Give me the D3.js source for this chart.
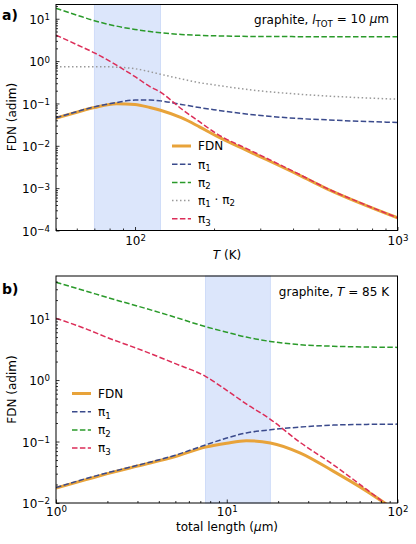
<!DOCTYPE html>
<html><head><meta charset="utf-8">
<script src="https://cdn.jsdelivr.net/npm/d3@7"></script>
<style>
body{margin:0;background:#fff;}
text{font-family:"DejaVu Sans",sans-serif;fill:#000;}
</style></head>
<body><svg id="c" width="416" height="544"></svg>
<script>
// ---------- Panel a) data: temperature T (K) ----------
const T_vals   = [50, 60, 70, 85, 100, 114, 125, 150, 176, 204, 274, 424, 536, 717, 1000];
const fdnA     = [0.045, 0.062, 0.080, 0.099, 0.095, 0.080, 0.069, 0.046, 0.028, 0.0171, 0.0072, 0.0020, 0.00098, 0.00045, 0.00020];
const pi1A     = [0.046, 0.064, 0.083, 0.105, 0.120, 0.120, 0.115, 0.095, 0.080, 0.070, 0.055, 0.044, 0.041, 0.038, 0.0356];
const pi2A     = [17.6, 12.2, 9.0, 6.7, 5.6, 5.0, 4.7, 4.25, 4.05, 3.95, 3.82, 3.78, 3.77, 3.76, 3.76];
const pi12A    = [0.74, 0.74, 0.74, 0.72, 0.66, 0.56, 0.49, 0.38, 0.31, 0.27, 0.21, 0.165, 0.15, 0.137, 0.126];
const pi3A     = [4.12, 2.45, 1.57, 0.80, 0.43, 0.25, 0.185, 0.075, 0.037, 0.0195, 0.0079, 0.0021, 0.0010, 0.00046, 0.00020];
const shadeA   = [70, 125];
const xTicksA  = [100, 1000];
const yTicksA  = [1e-4, 1e-3, 1e-2, 1e-1, 1, 10];

// ---------- Panel b) data: total length (um) ----------
const L_vals   = [1, 1.5, 2, 3, 5, 7.5, 10, 13, 18, 27, 42, 66, 85, 100];
const fdnB     = [0.0175, 0.024, 0.030, 0.040, 0.057, 0.081, 0.094, 0.103, 0.095, 0.065, 0.033, 0.0156, 0.0098, 0.0072];
const pi1B     = [0.0178, 0.025, 0.031, 0.041, 0.060, 0.088, 0.114, 0.138, 0.155, 0.172, 0.185, 0.190, 0.191, 0.192];
const pi2B     = [39, 28, 22, 16, 10.5, 7.4, 6.0, 5.0, 4.25, 3.75, 3.55, 3.45, 3.42, 3.40];
const pi3B     = [10.1, 6.8, 4.9, 3.25, 1.85, 1.15, 0.68, 0.41, 0.23, 0.096, 0.042, 0.0166, 0.0098, 0.0073];
const shadeB   = [7.5, 18];
const xTicksB  = [1, 10, 100];
const yTicksB  = [1e-2, 1e-1, 1, 10];

const COL = {fdn:"#e8a33a", pi1:"#3a4a8c", pi2:"#2a9a2a", pi12:"#999999", pi3:"#dc2d58", shade:"#dce6fb"};
const FS = 12;
const svg = d3.select("#c");

function supLabel(sel, v){
  const e = Math.round(Math.log10(v));
  sel.text("");
  sel.append("tspan").text("10");
  sel.append("tspan").attr("dy","-0.45em").attr("font-size","0.72em").text(e<0 ? "\u2212"+(-e) : String(e));
}
function minors(lo, hi){
  const out=[];
  for(let d=Math.floor(Math.log10(lo)); d<=Math.ceil(Math.log10(hi)); d++){
    for(let m=2;m<=9;m++){const v=m*Math.pow(10,d); if(v>=lo*0.999 && v<=hi*1.001) out.push(v);}
  }
  return out;
}

function panel(cfg){
  const g = svg.append("g");
  const x = d3.scaleLog().domain(cfg.xdom).range([56, 397.5]);
  const y = d3.scaleLog().domain(cfg.ydom).range([cfg.bottom, cfg.top]);
  const id = "clip"+cfg.name;
  svg.append("clipPath").attr("id",id).append("rect")
    .attr("x",56).attr("y",cfg.top).attr("width",341.5).attr("height",cfg.bottom-cfg.top);
  // shading
  g.append("rect").attr("x",x(cfg.shade[0])).attr("y",cfg.top)
    .attr("width",x(cfg.shade[1])-x(cfg.shade[0])).attr("height",cfg.bottom-cfg.top)
    .attr("fill",COL.shade).attr("stroke","#c9d8f7").attr("stroke-width",0.8);
  // lines
  const line = d3.line().x(d=>x(d[0])).y(d=>y(d[1])).curve(d3.curveMonotoneX);
  const lg = g.append("g").attr("clip-path",`url(#${id})`);
  cfg.series.forEach(s=>{
    lg.append("path").datum(cfg.xs.map((v,i)=>[v,s.vals[i]]))
      .attr("d",line).attr("fill","none").attr("stroke",s.color)
      .attr("stroke-width",s.w).attr("stroke-dasharray",s.dash||null);
  });
  // axes (ticks inward)
  const xa = g.append("g").attr("transform",`translate(0,${cfg.bottom})`)
    .call(d3.axisBottom(x).tickValues(cfg.xticks).tickSize(-3.5));
  xa.selectAll(".tick text").each(function(d){supLabel(d3.select(this),d);})
    .attr("font-size",FS).attr("y",cfg.xlabOff).attr("dy",0);
  g.append("g").attr("transform",`translate(0,${cfg.bottom})`)
    .call(d3.axisBottom(x).tickValues(minors(cfg.xdom[0],cfg.xdom[1])).tickSize(-2).tickFormat(""));
  const ya = g.append("g").attr("transform",`translate(56,0)`)
    .call(d3.axisLeft(y).tickValues(cfg.yticks).tickSize(-3.5).tickPadding(6));
  ya.selectAll(".tick text").each(function(d){supLabel(d3.select(this),d);}).attr("font-size",FS).attr("dy","0.4em");
  g.append("g").attr("transform",`translate(56,0)`)
    .call(d3.axisLeft(y).tickValues(minors(cfg.ydom[0],cfg.ydom[1])).tickSize(-2).tickFormat(""));
  g.selectAll(".domain").remove();
  g.selectAll(".tick line").attr("stroke","#000").attr("stroke-width",0.8);
  // frame
  g.append("rect").attr("x",56).attr("y",cfg.top).attr("width",341.5).attr("height",cfg.bottom-cfg.top)
    .attr("fill","none").attr("stroke","#000").attr("stroke-width",1);
  // legend
  const leg = g.append("g");
  cfg.series.forEach((s,i)=>{
    const yy = cfg.legY + i*18.2;
    leg.append("line").attr("x1",cfg.legX).attr("x2",cfg.legX+19).attr("y1",yy).attr("y2",yy)
      .attr("stroke",s.color).attr("stroke-width",s.w).attr("stroke-dasharray",s.dash||null);
    const t = leg.append("text").attr("x",cfg.legX+26).attr("y",yy+4.3).attr("font-size",FS);
    s.label.forEach(p=>{
      const ts = t.append("tspan").text(p.t);
      if(p.sub){ts.attr("font-size","0.72em").attr("dy","0.3em");}
      if(p.up){ts.attr("dy","-0.3em");}
    });
  });
  return {x,y,g};
}

const lblPi1=[{t:"\u03c0"},{t:"1",sub:true}];
const lblPi2=[{t:"\u03c0"},{t:"2",sub:true}];
const lblPi3=[{t:"\u03c0"},{t:"3",sub:true}];
const lblPi12=[{t:"\u03c0"},{t:"1",sub:true},{t:" \u00b7 \u03c0",up:true},{t:"2",sub:true}];

panel({name:"a", xdom:[50,1000], ydom:[1e-4,21.7], top:4.5, bottom:230.5, xs:T_vals, xlabOff:14.5,
  shade:shadeA, xticks:xTicksA, yticks:yTicksA, legX:172, legY:146,
  series:[
    {vals:fdnA, color:COL.fdn, w:3, label:[{t:"FDN"}]},
    {vals:pi1A, color:COL.pi1, w:1.5, dash:"5.5,2.4", label:lblPi1},
    {vals:pi2A, color:COL.pi2, w:1.5, dash:"5.5,2.4", label:lblPi2},
    {vals:pi12A, color:COL.pi12, w:1.5, dash:"1.5,2.5", label:lblPi12},
    {vals:pi3A, color:COL.pi3, w:1.5, dash:"5.5,2.4", label:lblPi3}
  ]});

panel({name:"b", xdom:[1,100], ydom:[1e-2,49.3], top:276, bottom:503, xs:L_vals, xlabOff:12.5,
  shade:shadeB, xticks:xTicksB, yticks:yTicksB, legX:72, legY:393.5,
  series:[
    {vals:fdnB, color:COL.fdn, w:3, label:[{t:"FDN"}]},
    {vals:pi1B, color:COL.pi1, w:1.5, dash:"5.5,2.4", label:lblPi1},
    {vals:pi2B, color:COL.pi2, w:1.5, dash:"5.5,2.4", label:lblPi2},
    {vals:pi3B, color:COL.pi3, w:1.5, dash:"5.5,2.4", label:lblPi3}
  ]});

// annotations
const a1 = svg.append("text").attr("x",389).attr("y",24).attr("text-anchor","end").attr("font-size",FS);
a1.append("tspan").text("graphite, ");
a1.append("tspan").attr("font-style","italic").text("l");
a1.append("tspan").attr("font-size","0.72em").attr("dy","0.3em").text("TOT");
a1.append("tspan").attr("dy","-0.3em").text(" = 10 ");
a1.append("tspan").attr("font-style","italic").text("\u03bc");
a1.append("tspan").text("m");

const a2 = svg.append("text").attr("x",389).attr("y",296).attr("text-anchor","end").attr("font-size",FS);
a2.append("tspan").text("graphite, ");
a2.append("tspan").attr("font-style","italic").text("T");
a2.append("tspan").text(" = 85 K");

svg.append("text").attr("x",2).attr("y",19.5).attr("font-size",14).attr("font-weight","bold").text("a)");
svg.append("text").attr("x",2).attr("y",294).attr("font-size",14).attr("font-weight","bold").text("b)");

[117, 389.5].forEach(cy=>{
  svg.append("text").attr("transform",`translate(15.5,${cy}) rotate(-90)`).attr("text-anchor","middle")
    .attr("font-size",FS).text("FDN (adim)");
});
const xl1 = svg.append("text").attr("x",227).attr("y",258.5).attr("text-anchor","middle").attr("font-size",FS);
xl1.append("tspan").attr("font-style","italic").text("T");
xl1.append("tspan").text(" (K)");
const xl2 = svg.append("text").attr("x",227).attr("y",531).attr("text-anchor","middle").attr("font-size",FS);
xl2.append("tspan").text("total length (");
xl2.append("tspan").attr("font-style","italic").text("\u03bc");
xl2.append("tspan").text("m)");
</script></body></html>
